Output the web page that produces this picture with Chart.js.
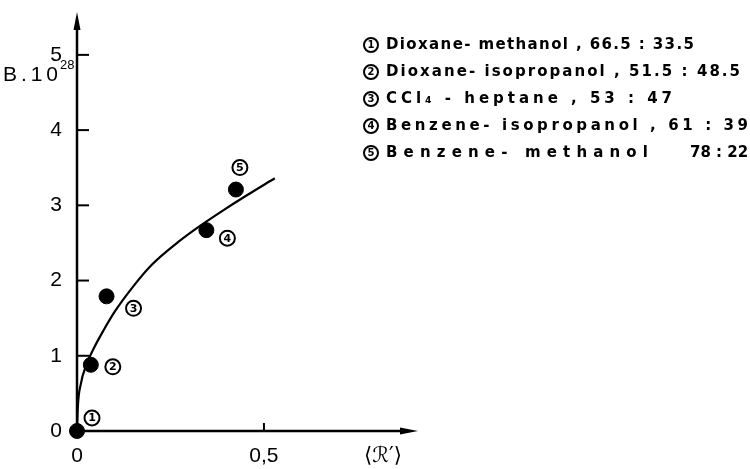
<!DOCTYPE html>
<html>
<head>
<meta charset="utf-8">
<script src="https://cdn.jsdelivr.net/npm/chart.js@4.4.1/dist/chart.umd.min.js"></script>
<style>
  html, body { margin: 0; padding: 0; background: #fff; }
  canvas { display: block; }
</style>
</head>
<body>
<canvas id="c" width="750" height="469"></canvas>
<script>
// Measured systems: mean <R'> against B·10^28
const systemNumbers = [1, 2, 3, 4, 5];
const systemNames = [
  'Dioxane- methanol ,',
  'Dioxane- isopropanol ,',
  'CCl\u2084 - heptane ,',
  'Benzene- isopropanol ,',
  'Benzene- methanol'
];
const systemRatios = ['66.5 : 33.5', '51.5 : 48.5', '53 : 47', '61 : 39', '78 : 22'];
const rValues = [0, 0.037, 0.079, 0.346, 0.425];
const bValues = [0, 0.88, 1.79, 2.67, 3.21];

// Hand-drawn trend curve through the measurements
const curveR = [0, 0.002, 0.010, 0.025, 0.045, 0.070, 0.100, 0.150, 0.200, 0.270, 0.330, 0.390, 0.450, 0.529];
const curveB = [0, 0.30, 0.62, 0.88, 1.10, 1.33, 1.58, 1.92, 2.21, 2.51, 2.73, 2.93, 3.12, 3.36];

// Axis ticks
const xTickValues = [0, 0.5];
const xTickLabels = ['0', '0,5'];
const yTickValues = [0, 1, 2, 3, 4, 5];
const yTickLabels = ['0', '1', '2', '3', '4', '5'];

const ink = '#000';
const tickFont = { family: 'Liberation Sans', size: 21 };

function circledNumber(ctx, n, x, y, r) {
  ctx.save();
  ctx.letterSpacing = '0px';
  ctx.beginPath();
  ctx.arc(x, y, r, 0, Math.PI * 2);
  ctx.lineWidth = 2;
  ctx.strokeStyle = ink;
  ctx.stroke();
  ctx.fillStyle = ink;
  ctx.font = 'bold ' + Math.round(r * 1.45) + 'px "DejaVu Sans"';
  ctx.textAlign = 'center';
  ctx.textBaseline = 'middle';
  ctx.fillText(String(n), x, y + 0.5);
  ctx.restore();
}

// draw a string spread out so that it ends at a given x
function spreadText(ctx, text, x, y, endX) {
  ctx.letterSpacing = '0px';
  const natural = ctx.measureText(text).width;
  const gap = Math.max(0, (endX - x - natural) / Math.max(1, text.length - 1));
  ctx.letterSpacing = gap.toFixed(2) + 'px';
  ctx.fillText(text, x, y);
  ctx.letterSpacing = '0px';
}

const axesAndNotes = {
  id: 'axesAndNotes',
  afterDatasetsDraw(chart) {
    const { ctx, chartArea: a, scales: { x, y } } = chart;
    const x0 = x.getPixelForValue(0);
    const y0 = y.getPixelForValue(0);
    ctx.save();
    ctx.strokeStyle = ink;
    ctx.fillStyle = ink;
    ctx.lineWidth = 2.5;
    ctx.lineCap = 'butt';

    // vertical axis with arrow
    ctx.beginPath();
    ctx.moveTo(x0, y0);
    ctx.lineTo(x0, a.top + 14);
    ctx.stroke();
    ctx.beginPath();
    ctx.moveTo(x0, a.top);
    ctx.lineTo(x0 - 3.5, a.top + 18);
    ctx.lineTo(x0 + 3.5, a.top + 18);
    ctx.closePath();
    ctx.fill();

    // horizontal axis with arrow
    ctx.beginPath();
    ctx.moveTo(x0, y0);
    ctx.lineTo(a.right - 14, y0);
    ctx.stroke();
    ctx.beginPath();
    ctx.moveTo(a.right, y0);
    ctx.lineTo(a.right - 18, y0 - 3.5);
    ctx.lineTo(a.right - 18, y0 + 3.5);
    ctx.closePath();
    ctx.fill();

    // inward tick marks
    ctx.lineWidth = 2;
    yTickValues.forEach(v => {
      if (v === 0) return;
      const py = y.getPixelForValue(v);
      ctx.beginPath();
      ctx.moveTo(x0, py);
      ctx.lineTo(x0 + 12, py);
      ctx.stroke();
    });
    xTickValues.forEach(v => {
      if (v === 0) return;
      const px = x.getPixelForValue(v);
      ctx.beginPath();
      ctx.moveTo(px, y0);
      ctx.lineTo(px, y0 - 8);
      ctx.stroke();
    });

    // axis titles
    ctx.textBaseline = 'alphabetic';
    ctx.textAlign = 'left';
    ctx.font = '21px "Liberation Sans"';
    spreadText(ctx, 'B.10', 3, 81, 58);
    ctx.font = '13px "Liberation Sans"';
    ctx.fillText('28', 60, 69);
    ctx.font = '21px "DejaVu Sans"';
    ctx.fillText('\u27E8\u211B\u2032\u27E9', 364, 462);

    // numbered markers beside the points
    const meta = chart.getDatasetMeta(1);
    const offsets = [[15, -13], [22, 2], [27, 12], [21, 8], [4, -22]];
    meta.data.forEach((pt, i) => {
      circledNumber(ctx, systemNumbers[i], pt.x + offsets[i][0], pt.y + offsets[i][1], 7.5);
    });

    // key of systems
    const keyX = 371, textX = 386, keyY = 45, keyStep = 27;
    const lineEnds = [694, 740, 672, 748, 648];
    ctx.font = 'bold 15px "DejaVu Sans"';
    ctx.textBaseline = 'middle';
    systemNames.forEach((name, i) => {
      const cy = keyY + i * keyStep;
      circledNumber(ctx, systemNumbers[i], keyX, cy, 7);
      if (i === 4) {
        spreadText(ctx, name, textX, cy, lineEnds[i]);
        spreadText(ctx, systemRatios[i], 690, cy, 746);
      } else {
        spreadText(ctx, name + ' ' + systemRatios[i], textX, cy, lineEnds[i]);
      }
    });
    ctx.restore();
  }
};

new Chart(document.getElementById('c'), {
  type: 'scatter',
  data: {
    datasets: [
      {
        type: 'line',
        data: curveR.map((r, i) => ({ x: r, y: curveB[i] })),
        borderColor: ink,
        borderWidth: 2.2,
        pointRadius: 0,
        fill: false,
        cubicInterpolationMode: 'monotone',
        clip: false
      },
      {
        data: rValues.map((r, i) => ({ x: r, y: bValues[i] })),
        backgroundColor: ink,
        borderColor: ink,
        pointRadius: 7.5,
        clip: false
      }
    ]
  },
  options: {
    responsive: false,
    animation: false,
    events: [],
    layout: { padding: { left: 0, top: 12, right: 332, bottom: 0 } },
    plugins: { legend: { display: false }, tooltip: { enabled: false } },
    scales: {
      x: {
        type: 'linear',
        min: 0,
        max: 0.912,
        grid: { display: false, drawTicks: false },
        border: { display: false },
        afterBuildTicks(s) { s.ticks = xTickValues.map(v => ({ value: v })); },
        afterFit(s) { s.height = 38; s.paddingLeft = 0; s.paddingRight = 0; },
        ticks: {
          color: ink,
          font: tickFont,
          padding: 13,
          maxRotation: 0,
          callback: (v) => xTickLabels[xTickValues.indexOf(v)]
        }
      },
      y: {
        type: 'linear',
        min: 0,
        max: 5.57,
        grid: { display: false, drawTicks: false },
        border: { display: false },
        afterBuildTicks(s) { s.ticks = yTickValues.map(v => ({ value: v })); },
        afterFit(s) { s.width = 77; s.paddingTop = 0; s.paddingBottom = 0; },
        ticks: {
          color: ink,
          font: tickFont,
          padding: 15,
          callback: (v) => yTickLabels[yTickValues.indexOf(v)]
        }
      }
    }
  },
  plugins: [axesAndNotes]
});
</script>
</body>
</html>
